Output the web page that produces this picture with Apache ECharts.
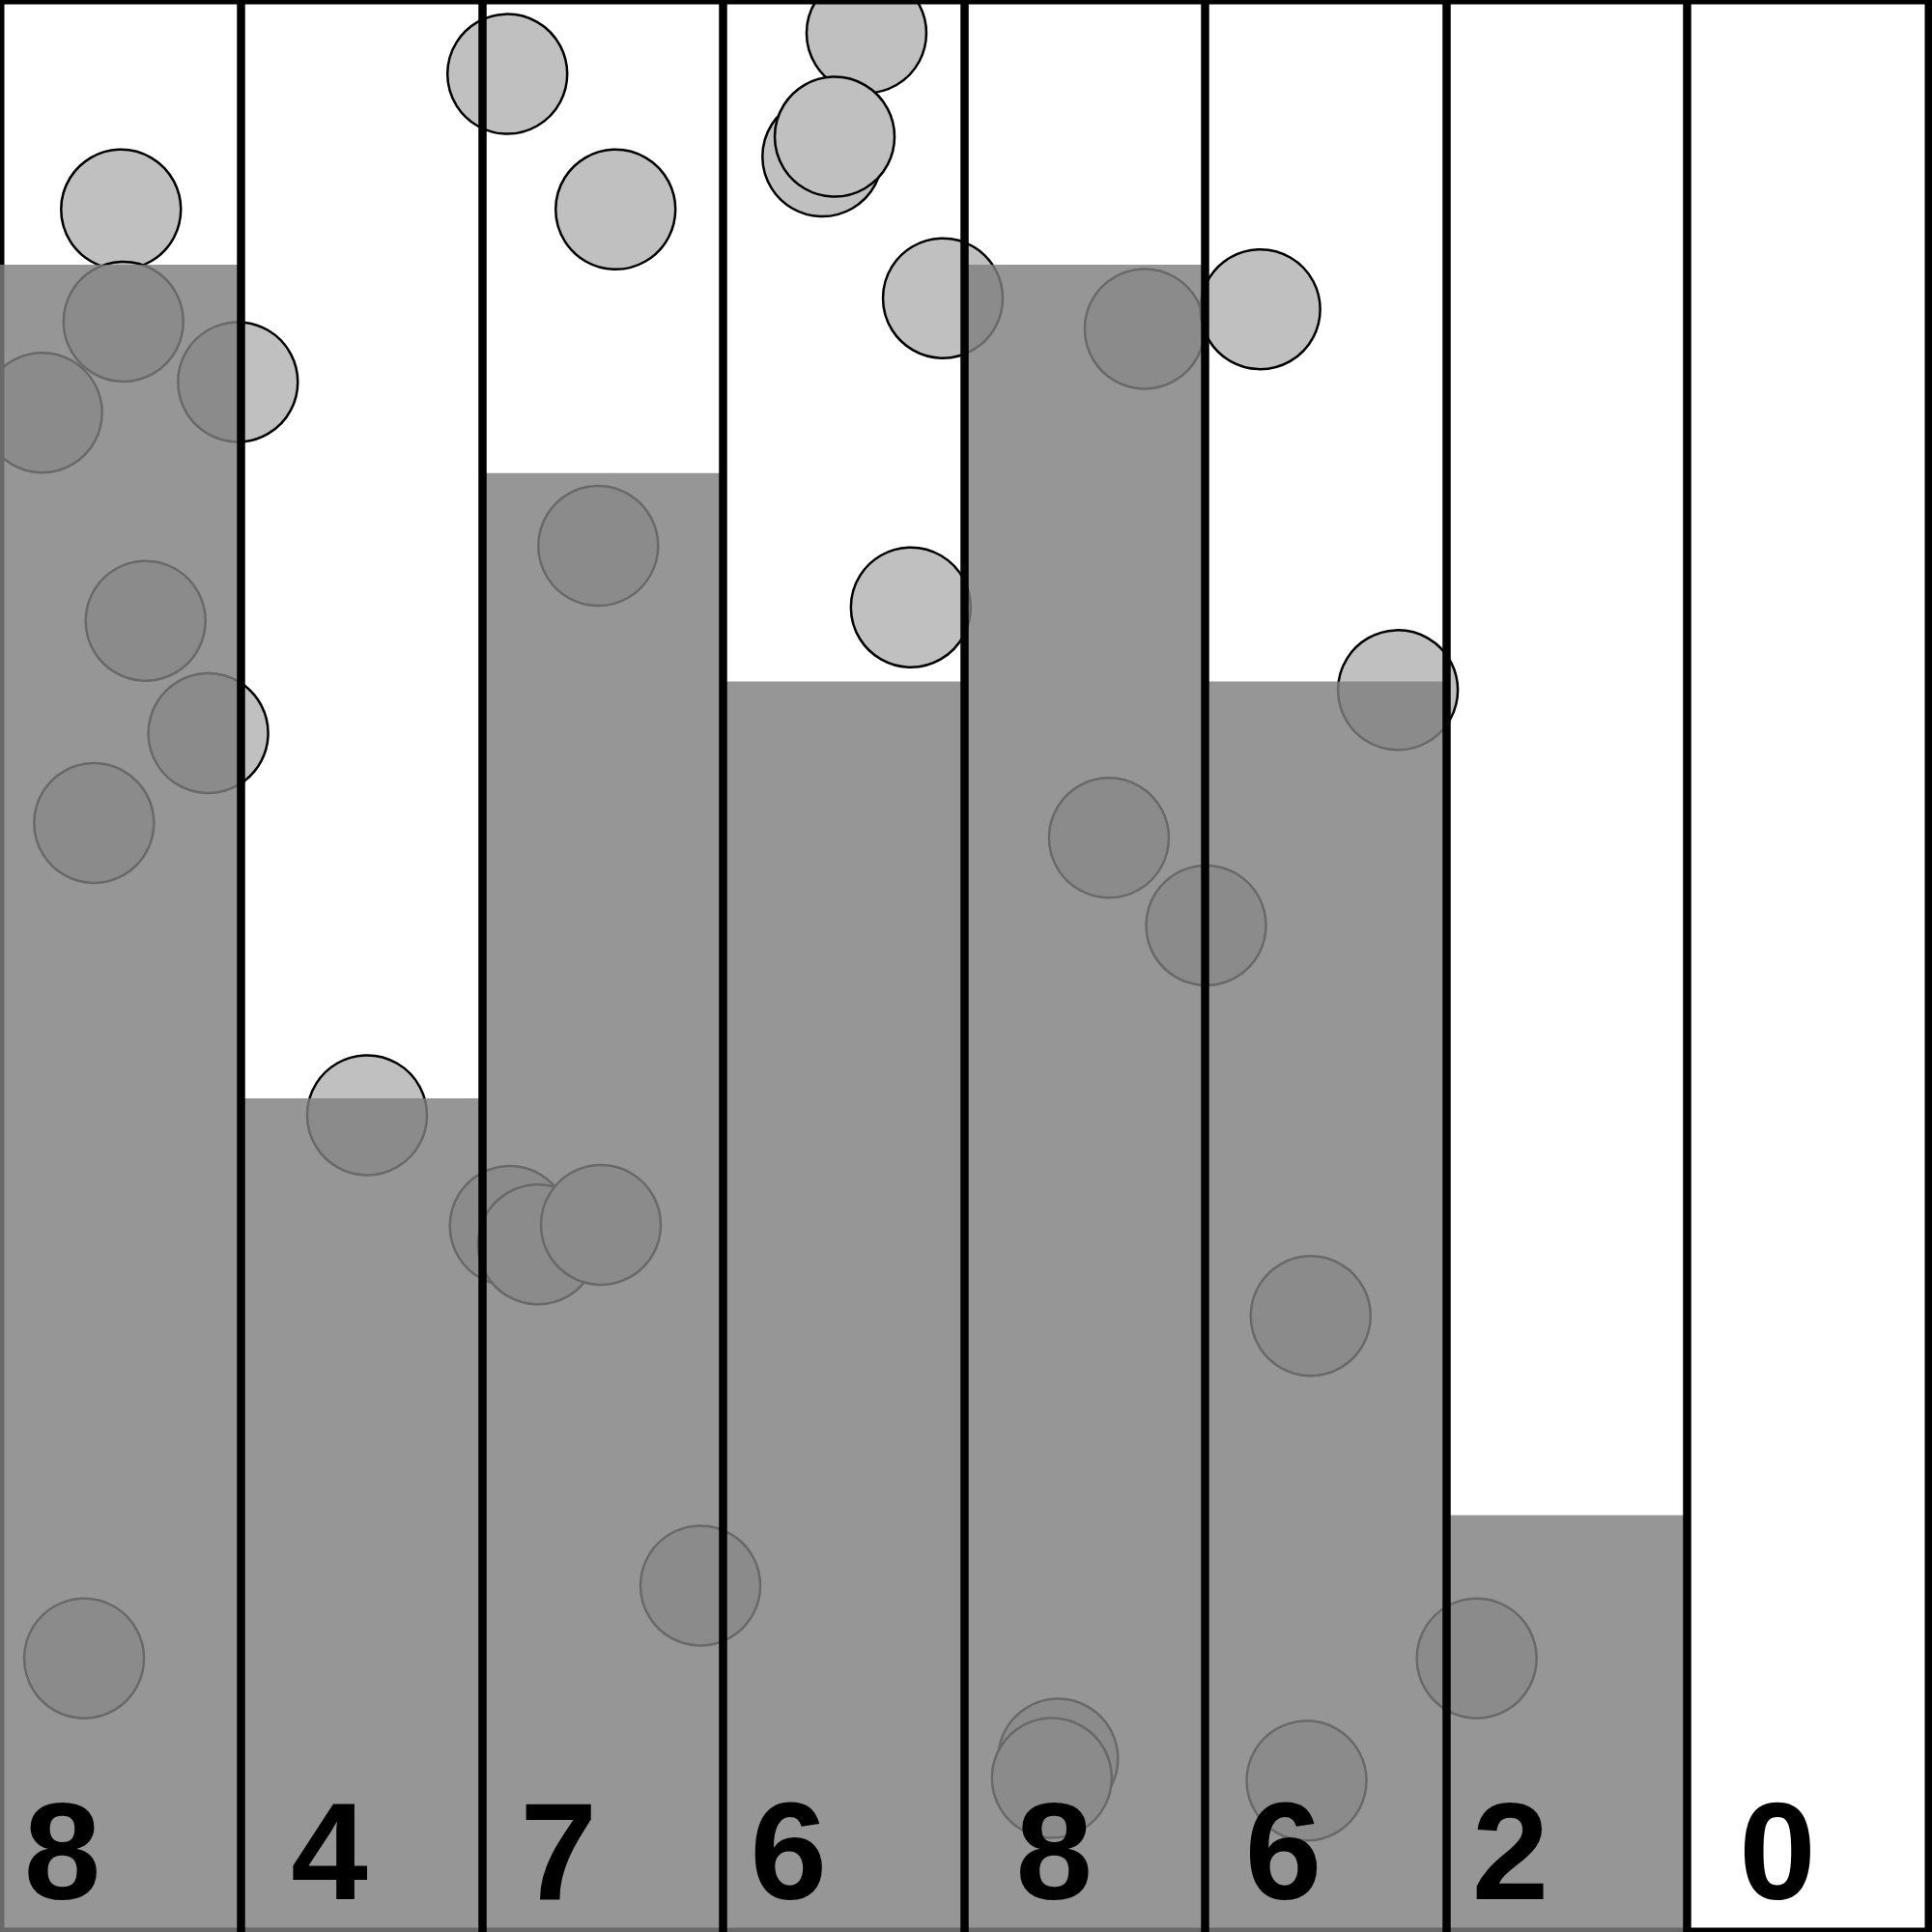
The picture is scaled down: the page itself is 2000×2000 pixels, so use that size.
<!DOCTYPE html>
<html>
<head>
<meta charset="utf-8">
<script src="https://cdn.jsdelivr.net/npm/echarts@6/dist/echarts.min.js"></script>
<style>
  html, body { margin: 0; padding: 0; background: #fff; }
  #chart { width: 2000px; height: 2000px; }
</style>
</head>
<body>
<div id="chart"></div>
<script>
// ---- data ----
const categories = ['A', 'B', 'C', 'D', 'E', 'F', 'G', 'H'];
const counts = [8, 4, 7, 6, 8, 6, 2, 0];
// label anchor positions (column units) for the count numbers
const labelX = [0.259, 1.367, 2.318, 3.272, 4.374, 5.325, 6.267, 7.375];
const labelY = 0.389;
// circle positions: x in column units (0..8), y in bar units
const circleX = [0.502, 0.512, 0.175, 0.987, 0.604, 0.864, 0.390, 0.349,
                 1.523,
                 2.105, 2.554, 2.482, 2.115, 2.232, 2.493, 2.906,
                 3.595, 3.412, 3.463, 3.912, 3.779,
                 4.749, 5.229, 4.601, 5.004, 5.800, 5.438, 4.390, 4.364, 5.421,
                 6.127];
const circleY = [8.265, 7.727, 7.290, 7.437, 6.291, 5.752, 5.321, 1.313,
                 3.919,
                 8.915, 8.265, 6.651, 3.388, 3.299, 3.393, 1.662,
                 9.111, 8.519, 8.614, 7.839, 6.356,
                 7.692, 7.786, 5.250, 4.830, 5.959, 2.956, 0.832, 0.739, 0.726,
                 1.313];
const yMax = 9.27;

const chart = echarts.init(document.getElementById('chart'), null, { renderer: 'svg' });

const circleData = circleX.map((x, i) => [x, circleY[i]]);
const labelData = labelX.map((x, i) => [x, labelY, counts[i]]);
const separators = [];
for (let i = 1; i < categories.length; i++) separators.push({ xAxis: i });

chart.setOption({
  animation: false,
  backgroundColor: '#ffffff',
  grid: { left: -3, right: 4, top: 0, bottom: 0, containLabel: false },
  xAxis: [
    { type: 'category', data: categories, show: false, boundaryGap: true },
    { type: 'value', min: 0, max: categories.length, show: false }
  ],
  yAxis: { type: 'value', min: 0, max: yMax, show: false },
  graphic: [{
    type: 'rect',
    silent: true,
    z: 2,
    shape: { x: 0, y: 0, width: 1997, height: 2000 },
    style: { fill: 'transparent', stroke: '#000', lineWidth: 9 }
  }],
  series: [
    {
      type: 'custom',
      xAxisIndex: 1,
      z: 1,
      silent: true,
      data: circleData,
      encode: { x: 0, y: 1 },
      renderItem: function (params, api) {
        const p = api.coord([api.value(0), api.value(1)]);
        return {
          type: 'circle',
          shape: { cx: p[0], cy: p[1], r: 62 },
          style: { fill: '#c0c0c0', stroke: '#000', lineWidth: 2.5 }
        };
      }
    },
    {
      type: 'bar',
      xAxisIndex: 0,
      z: 3,
      silent: true,
      barCategoryGap: '0%',
      data: counts,
      itemStyle: { color: 'rgba(127,127,127,0.825)' },
      emphasis: { disabled: true }
    },
    {
      type: 'custom',
      xAxisIndex: 1,
      z: 5,
      silent: true,
      data: labelData,
      encode: { x: 0, y: 1 },
      renderItem: function (params, api) {
        const p = api.coord([api.value(0), api.value(1)]);
        return {
          type: 'text',
          style: {
            text: String(api.value(2)),
            x: p[0],
            y: p[1],
            fill: '#000',
            fontFamily: '"Liberation Sans", Arial, sans-serif',
            fontWeight: 'bold',
            fontSize: 143,
            align: 'center',
            verticalAlign: 'middle'
          }
        };
      },
      markLine: {
        silent: true,
        symbol: ['none', 'none'],
        label: { show: false },
        lineStyle: { color: '#000', width: 8.5, type: 'solid', opacity: 1 },
        emphasis: { disabled: true },
        data: separators
      }
    }
  ]
});
</script>
</body>
</html>
